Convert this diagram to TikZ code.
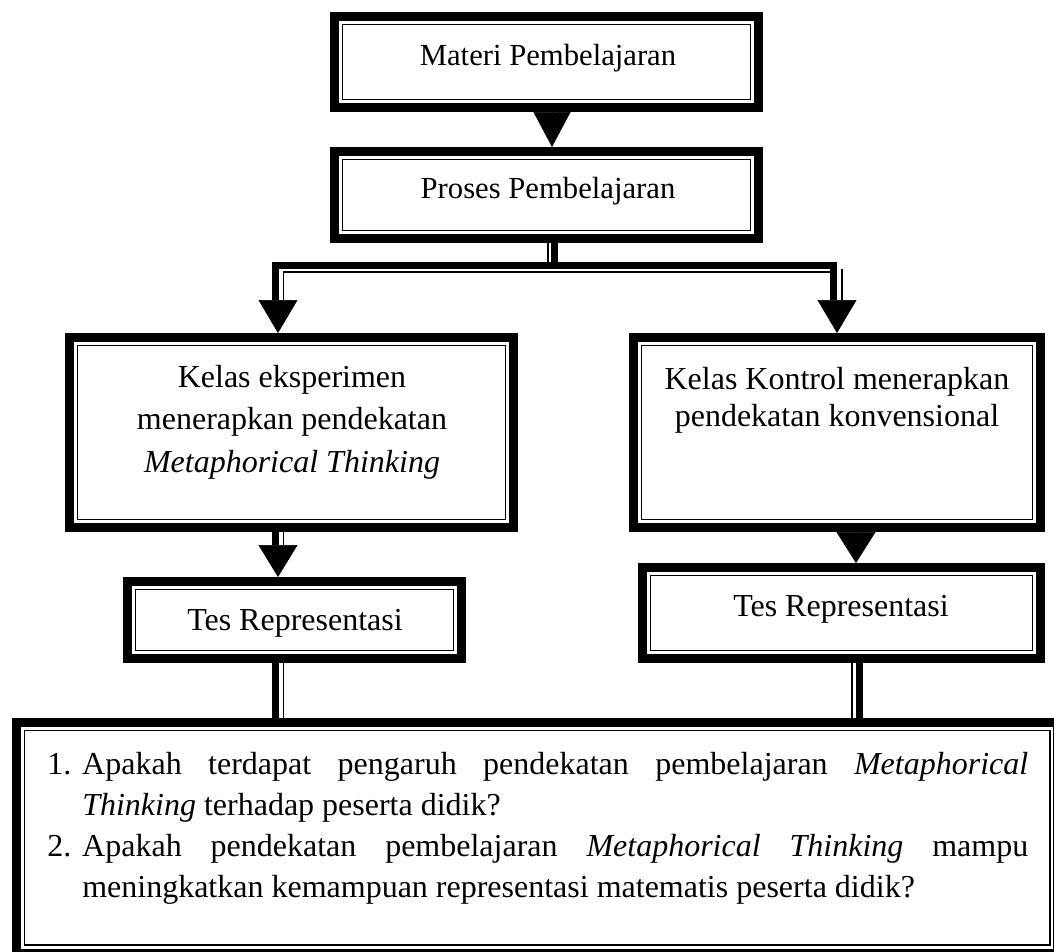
\documentclass[tikz,border=0pt]{standalone}
\usepackage{fontspec}
\setmainfont{Liberation Serif}
\usetikzlibrary{arrows.meta}
\tikzset{
  dbox/.style={draw=black, line width=6.75pt, outer sep=3.375pt, inner sep=0pt, fill=white},
  innerline/.style={draw=black, line width=1.4pt},
  thk/.style={draw=black, line width=5.25pt},
  thn/.style={draw=black, line width=1.2pt},
  txt/.style={inner sep=0pt, anchor=base, font=\fontsize{23}{31}\selectfont},
  txtb/.style={inner sep=0pt, anchor=base, font=\fontsize{24}{31}\selectfont},
  tipA/.style={line width=0.4pt, -{Triangle[length=26.25pt,width=27.75pt]}},
  tipB/.style={line width=0.4pt, -{Triangle[length=24.75pt,width=29.25pt]}},
  tipC/.style={line width=0.4pt, -{Triangle[length=24pt,width=29.25pt]}},
  tipD/.style={line width=0.4pt, -{Triangle[length=23.25pt,width=29.25pt]}},
}
\newcommand\innerframe[1]{\draw[innerline] ([xshift=9.375pt,yshift=-9.375pt]#1.north west) rectangle ([xshift=-9.375pt,yshift=9.375pt]#1.south east);}
\begin{document}
\begin{tikzpicture}[x=0.75pt,y=-0.75pt]
\clip (0,0) rectangle (1054,951);
\fill[white] (0,0) rectangle (1054,951);

% boxes
\node[dbox, minimum width=318pt, minimum height=68.25pt] (mat) at (546.5,62) {};
\innerframe{mat}
\node[dbox, minimum width=318pt, minimum height=65.25pt] (pro) at (546.5,195) {};
\innerframe{pro}
\node[dbox, minimum width=333pt, minimum height=142.5pt] (eks) at (291.5,432.5) {};
\innerframe{eks}
\node[dbox, minimum width=305.25pt, minimum height=142.5pt] (kon) at (837,432.5) {};
\innerframe{kon}
\node[dbox, minimum width=250.5pt, minimum height=57.75pt] (lt) at (294.5,620) {};
\innerframe{lt}
\node[dbox, minimum width=298.5pt, minimum height=68.25pt] (rt) at (841.5,613) {};
\innerframe{rt}
\node[dbox, minimum width=781.1pt, minimum height=172.9pt] (bot) at (537.25,837.75) {};
\innerframe{bot}

% texts
\node[txt] (matT) at (548,65) {Materi Pembelajaran};
\node[txt] (proT) at (548,198) {Proses Pembelajaran};
\node[txtb] (eksT) at (292,387) {\fontsize{24}{31.9}\selectfont\renewcommand\arraystretch{1}\begin{tabular}[t]{@{}c@{}}Kelas eksperimen\\ menerapkan pendekatan\\ \textit{Metaphorical Thinking}\end{tabular}};
\node[txtb] (konT) at (837,389) {\fontsize{24}{27.75}\selectfont\renewcommand\arraystretch{1}\begin{tabular}[t]{@{}c@{}}Kelas Kontrol menerapkan\\ pendekatan konvensional\end{tabular}};
\node[txtb] (ltT) at (295,630) {Tes Representasi};
\node[txtb] (rtT) at (841,616) {Tes Representasi};
\node[inner sep=0pt, anchor=base west] (botT) at (47,774) {\parbox[t]{735.75pt}{\fontsize{24}{30.75}\selectfont\parindent=0pt
\hangindent=26.25pt\hangafter=1 \makebox[26.25pt][l]{1.}Apakah terdapat pengaruh pendekatan pembelajaran \textit{Metaphorical}\linebreak \textit{Thinking} terhadap peserta didik?\par
\hangindent=26.25pt\hangafter=1 \makebox[26.25pt][l]{2.}Apakah pendekatan pembelajaran \textit{Metaphorical Thinking} mampu\linebreak meningkatkan kemampuan representasi matematis peserta didik?}};

% Materi -> Proses
\draw[tipA] ([xshift=4.125pt]mat.south) -- ([xshift=4.125pt]pro.north);

% Proses -> two classes (thick-thin elbow)
\draw[thk] ([xshift=6pt]pro.south) -- ++(0,22.5) -| ([xshift=-12pt,yshift=24.75pt]eks.north);
\draw[thk] ([xshift=6pt]pro.south) ++(0,22.5) -| ([xshift=-2.625pt,yshift=24.75pt]kon.north);
\draw[thn] ([xshift=1.125pt]pro.south) -- ++(0,19);
\draw[thn] ([xshift=-6pt,yshift=24.75pt]eks.north) |- ([xshift=-5.25pt,yshift=45.75pt]kon.north);
\draw[thn] ([xshift=3.75pt,yshift=24.75pt]kon.north) -- ([xshift=3.75pt,yshift=48pt]kon.north);
\draw[tipB] ([xshift=-10.125pt,yshift=24.75pt]eks.north) -- ([xshift=-10.125pt]eks.north);
\draw[tipB] ([yshift=24.75pt]kon.north) -- (kon.north);

% Eksperimen -> Tes
\draw[thk] ([xshift=-12pt]eks.south) -- ([xshift=-14.25pt,yshift=24pt]lt.north);
\draw[thn] ([xshift=-6pt]eks.south) -- ([xshift=-8.25pt,yshift=24pt]lt.north);
\draw[tipC] ([xshift=-12.375pt,yshift=24pt]lt.north) -- ([xshift=-12.375pt]lt.north);

% Kontrol -> Tes
\draw[tipD] ([xshift=14.25pt]kon.south) -- ([xshift=10.875pt]rt.north);

% Tes -> bottom box
\draw[thk] ([xshift=-14.25pt]lt.south) -- ++(0,55);
\draw[thn] ([xshift=-8.25pt]lt.south) -- ++(0,55);
\draw[thn] ([xshift=7.875pt]rt.south) -- ++(0,55);
\draw[thk] ([xshift=13.125pt]rt.south) -- ++(0,55);
\end{tikzpicture}
\end{document}
